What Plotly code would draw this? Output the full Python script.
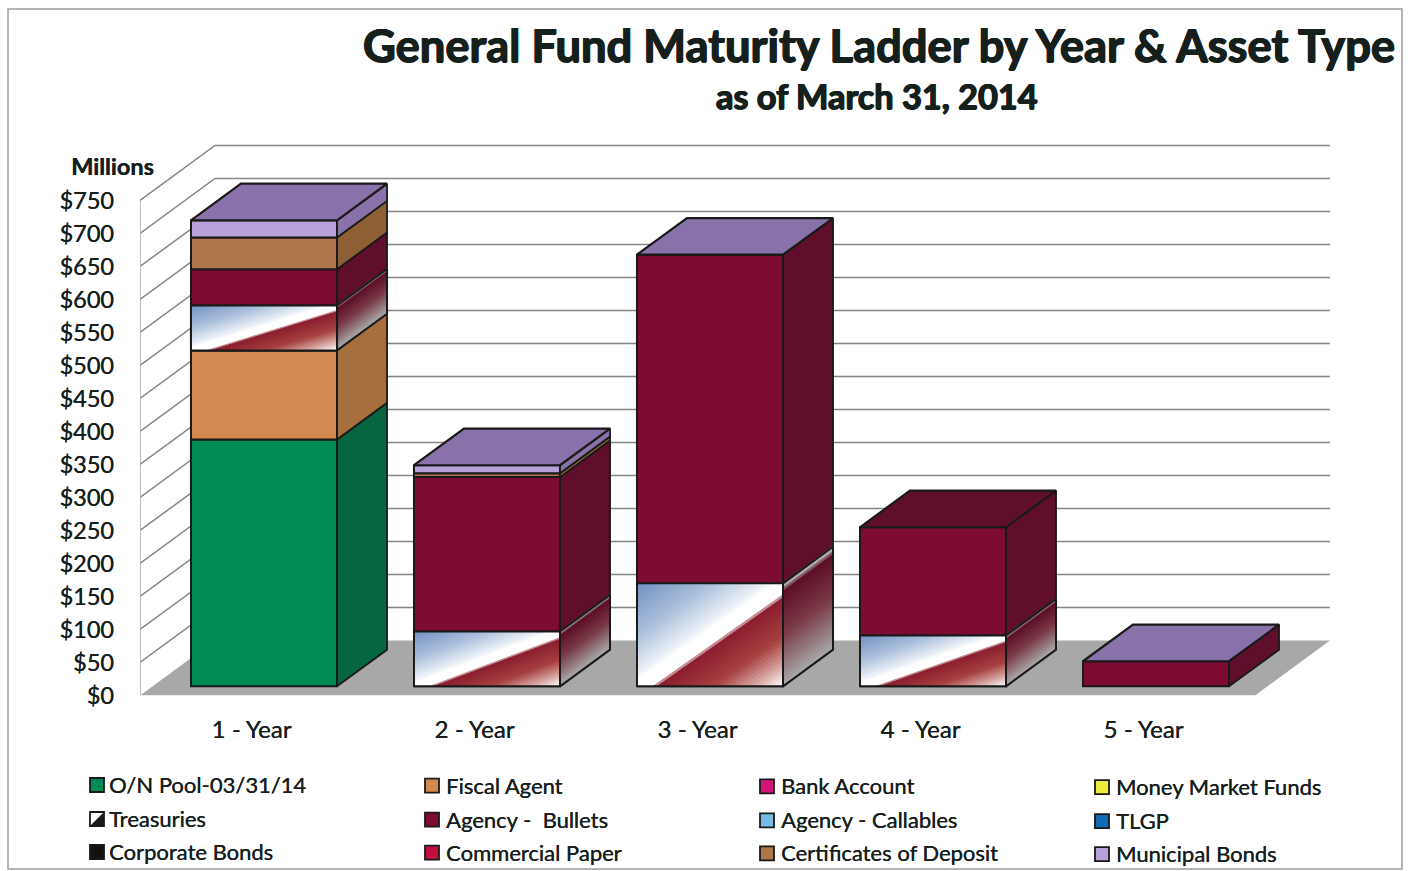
import plotly.graph_objects as go

WIDTH, HEIGHT = 1408, 871
TEXT = "#15201d"
FONT = "Lato"
EDGE = "#191919"
# Slight and strong thickening of the strokes, for a heavier look than the installed faces
LABEL_WEIGHT = f"0.25px 0 0 {TEXT}"
HEADING_WEIGHT = f"0.7px 0 0 {TEXT}, -0.7px 0 0 {TEXT}, 0 0.5px 0 {TEXT}, 0 -0.5px 0 {TEXT}"

# ---- data ($ millions); None means the asset type is absent from that year ----
years = ["1 - Year", "2 - Year", "3 - Year", "4 - Year", "5 - Year"]
on_pool = [374, None, None, None, None]
fiscal_agent = [135, None, None, None, None]
bank_account = [None, None, None, None, None]
money_market = [None, None, None, None, None]
treasuries = [68, 83, 156, 77, None]
agency_bullets = [55, 234, 498, 164, 38]
agency_callables = [None, None, None, None, None]
tlgp = [None, None, None, None, None]
corporate_bonds = [None, None, None, None, None]
commercial_paper = [None, None, None, None, None]
certificates = [48, 6, None, None, None]
municipal_bonds = [26, 12, 0, None, 0]

axis_ticks = list(range(0, 751, 50))

series_names = [
    "O/N Pool-03/31/14", "Fiscal Agent", "Bank Account", "Money Market Funds",
    "Treasuries", "Agency -  Bullets", "Agency - Callables", "TLGP",
    "Corporate Bonds", "Commercial Paper", "Certificates of Deposit", "Municipal Bonds",
]
series_values = [
    on_pool, fiscal_agent, bank_account, money_market,
    treasuries, agency_bullets, agency_callables, tlgp,
    corporate_bonds, commercial_paper, certificates, municipal_bonds,
]
front_colors = [
    "#008b55", "#d28a50", "#d6137b", "#ecea3c",
    "#ffffff", "#7e0b33", "#72bce6", "#0f69b4",
    "#111111", "#c40f3c", "#ad7749", "#b6a2d8",
]
shade_colors = [
    "#05663f", "#a86f3e", "#a00e5c", "#b5b32c",
    "#888888", "#5f0f2b", "#558dad", "#0b4e87",
    "#0b0b0b", "#930b2d", "#8e5f35", "#8872a9",
]
TREASURY = series_names.index("Treasuries")

# ---- projection of the box-like 3-D look onto the 2-D axes ----
DEPTH_X = 75 / 223      # full floor depth, in category widths
DEPTH_Y = 55 / 0.66     # full floor depth, in $ millions
D_FRONT, D_BACK = 1 / 6, 5 / 6
BAR_WIDTH = 0.655
X_MIN, X_MAX = -0.5, 4.5


def project(x, value, depth):
    return x + depth * DEPTH_X, value + depth * DEPTH_Y


def px(x):
    return x / WIDTH


def py(y):
    return 1 - y / HEIGHT


def polygon_path(points):
    return "M" + "L".join(f"{x},{y}" for x, y in points) + "Z"


def clip(points, keep):
    """Clip a polygon with a half-plane given as keep(p) -> signed distance."""
    out = []
    for a, b in zip(points, points[1:] + points[:1]):
        da, db = keep(a), keep(b)
        if da >= 0:
            out.append(a)
        if da * db < 0:
            s = da / (da - db)
            out.append((a[0] + s * (b[0] - a[0]), a[1] + s * (b[1] - a[1])))
    return out


def lerp_color(c0, c1, s):
    v0 = [int(c0[i:i + 2], 16) for i in (1, 3, 5)]
    v1 = [int(c1[i:i + 2], 16) for i in (1, 3, 5)]
    return "#" + "".join(f"{round(a + s * (b - a)):02x}" for a, b in zip(v0, v1))


def ramp(stops, steps_per_unit):
    """Split colour stops into (t0, t1, colour) bands."""
    bands = []
    for (t0, c0), (t1, c1) in zip(stops, stops[1:]):
        n = max(1, round((t1 - t0) * steps_per_unit))
        for k in range(n):
            a = t0 + (t1 - t0) * k / n
            b = t0 + (t1 - t0) * (k + 1) / n
            bands.append((a, b, lerp_color(c0, c1, (k + 0.5) / n)))
    return bands


def face_trace(points, fill, width):
    """Filled, closed polygon with a dark edge."""
    closed = points + points[:1]
    return go.Scatter(x=[p[0] for p in closed], y=[p[1] for p in closed],
                      mode="lines", fill="toself", fillcolor=fill,
                      line=dict(color=EDGE, width=width),
                      hoverinfo="skip", showlegend=False)


# Diagonal metallic fill on the front of a Treasuries block
front_bands = ramp([
    (0.00, "#6f8fc0"), (0.25, "#a9bedb"), (0.45, "#eef3f8"), (0.47, "#ffffff"),
    (0.555, "#ffffff"), (0.57, "#8a1c2e"), (0.76, "#a7403f"), (0.90, "#d8a8a4"),
    (1.00, "#ffffff"),
], 48)
# Matching fill on the shaded side of a Treasuries block
side_bands = ramp([
    (0.00, "#b8b8b8"), (0.05, "#a8a0a0"), (0.08, "#5c0e26"), (0.50, "#7a3a47"),
    (1.00, "#a8a8a8"),
], 26)

fig = go.Figure()

# ---- walls and floor, behind everything ----
shapes = []
floor = [project(X_MIN, 0, 0), project(X_MAX, 0, 0), project(X_MAX, 0, 1), project(X_MIN, 0, 1)]
shapes.append(dict(type="path", path=polygon_path(floor), xref="x", yref="y", layer="below",
                   fillcolor="#a8a8a8", line=dict(width=0)))
for tick in axis_ticks[1:]:
    a, b, c = project(X_MIN, tick, 0), project(X_MIN, tick, 1), project(X_MAX, tick, 1)
    shapes.append(dict(type="path", path=f"M{a[0]},{a[1]}L{b[0]},{b[1]}L{c[0]},{c[1]}",
                       xref="x", yref="y", layer="below",
                       line=dict(color="#858585", width=1.5)))
shapes.append(dict(type="line", xref="x", yref="y", layer="below",
                   x0=X_MIN, x1=X_MIN, y0=0, y1=axis_ticks[-1],
                   line=dict(color="#a8a8a8", width=1.5)))
# Outer chart frame
shapes.append(dict(type="rect", xref="paper", yref="paper", layer="below",
                   x0=px(8), x1=px(1402), y0=py(869), y1=py(9),
                   line=dict(color="#9c9c9c", width=1.5), fillcolor="rgba(0,0,0,0)"))

# ---- stacked blocks ----
running = [0.0] * len(years)
face_traces = []
front_strips = {}
side_strips = {}
outlines_x, outlines_y = [], []


def add_strip(store, bands, corners, param):
    """Cut a quadrilateral into colour bands along param, which is linear over the face."""
    for t0, t1, color in bands:
        poly = clip(list(corners), lambda p: param(p) - t0)
        if poly:
            poly = clip(poly, lambda p: t1 - param(p))
        if len(poly) >= 3:
            xs, ys = store.setdefault(color, ([], []))
            xs.extend(p[0] for p in poly + poly[:1])
            ys.extend(p[1] for p in poly + poly[:1])
            xs.append(None)
            ys.append(None)


top_of_stack = [None] * len(years)
for s, (name, values) in enumerate(zip(series_names, series_values)):
    xs, heights, bases = [], [], []
    for i, v in enumerate(values):
        if v is None:
            continue
        base = running[i]
        top = base + v
        left, right = i - BAR_WIDTH / 2, i + BAR_WIDTH / 2
        top_of_stack[i] = s
        running[i] = top
        if v == 0:
            continue
        x_shift, y_shift = project(i, base, D_FRONT)
        xs.append(x_shift)
        bases.append(y_shift)
        heights.append(v)
        # right-hand side face
        side = [project(right, base, D_FRONT), project(right, top, D_FRONT),
                project(right, top, D_BACK), project(right, base, D_BACK)]
        if s == TREASURY:
            fx0, fy0 = project(left, base, D_FRONT)
            fx1, fy1 = project(right, top, D_FRONT)
            front = [(fx0, fy0), (fx1, fy0), (fx1, fy1), (fx0, fy1)]
            add_strip(front_strips, front_bands, front,
                      lambda p, a=fx0, b=fx1, c=fy0, d=fy1:
                      ((p[0] - a) / (b - a) + (d - p[1]) / (d - c)) / 2)
            slope = DEPTH_Y / DEPTH_X
            add_strip(side_strips, side_bands, side,
                      lambda p, a=fx1, d=fy1, h=top - base, m=slope:
                      (d + (p[0] - a) * m - p[1]) / h)
            for quad in (front, side):
                closed = quad + quad[:1]
                outlines_x.extend(p[0] for p in closed)
                outlines_y.extend(p[1] for p in closed)
                outlines_x.append(None)
                outlines_y.append(None)
        else:
            face_traces.append(face_trace(side, shade_colors[s], 1.8))
    if xs:
        fig.add_trace(go.Bar(
            x=xs, y=heights, base=bases, width=BAR_WIDTH, name=name,
            marker=dict(color=front_colors[s], line=dict(color=EDGE, width=2)),
            showlegend=False))

for trace in face_traces:
    fig.add_trace(trace)

for store, seam in ((front_strips, 1.0), (side_strips, 1.6)):
    for color, (xs, ys) in store.items():
        fig.add_trace(go.Scatter(x=xs, y=ys, mode="lines", fill="toself", fillcolor=color,
                                 line=dict(color=color, width=seam),
                                 hoverinfo="skip", showlegend=False))

fig.add_trace(go.Scatter(x=outlines_x, y=outlines_y, mode="lines",
                         line=dict(color=EDGE, width=2),
                         hoverinfo="skip", showlegend=False))

# Lid of each block takes the shade of the last series in its stack
for i, s in enumerate(top_of_stack):
    left, right = i - BAR_WIDTH / 2, i + BAR_WIDTH / 2
    top = running[i]
    lid = [project(left, top, D_FRONT), project(right, top, D_FRONT),
           project(right, top, D_BACK), project(left, top, D_BACK)]
    fig.add_trace(face_trace(lid, shade_colors[s], 2.2))

# ---- titles ----
annotations = [
    dict(text="<b>General Fund Maturity Ladder by Year &amp; Asset Type</b>", x=px(879), y=py(45),
         font=dict(size=45.3, color=TEXT, family=FONT, shadow=HEADING_WEIGHT)),
    dict(text="<b>as of March 31, 2014</b>", x=px(877), y=py(96),
         font=dict(size=34.3, color=TEXT, family=FONT, shadow=HEADING_WEIGHT)),
    dict(text="<b>Millions</b>", x=px(112), y=py(166),
         font=dict(size=23.5, color=TEXT, family=FONT, shadow=f"0.4px 0 0 {TEXT}")),
]

# ---- hand-placed key: four columns by three rows ----
swatch_cols = [90, 425, 760, 1095]
text_cols = [107, 444, 779, 1114]
row_ys = [785, 819, 852]
SWATCH = 14
for k, name in enumerate(series_names):
    row, col = k // 4, k % 4
    yc = row_ys[row] + col * 0.7
    x0 = swatch_cols[col]
    shapes.append(dict(type="rect", xref="paper", yref="paper",
                       x0=px(x0), x1=px(x0 + SWATCH), y0=py(yc + SWATCH / 2), y1=py(yc - SWATCH / 2),
                       fillcolor=front_colors[k], line=dict(color=EDGE, width=1.8)))
    if k == TREASURY:
        shapes.append(dict(type="path", xref="paper", yref="paper",
                           path=polygon_path([(px(x0), py(yc + SWATCH / 2)),
                                              (px(x0 + SWATCH), py(yc + SWATCH / 2)),
                                              (px(x0 + SWATCH), py(yc - SWATCH / 2))]),
                           fillcolor=EDGE, line=dict(width=0)))
    annotations.append(dict(text=name, x=px(text_cols[col]), y=py(yc - 0.5), xanchor="left",
                            font=dict(size=22, color=TEXT, family=FONT, shadow=LABEL_WEIGHT)))

for a in annotations:
    a.update(xref="paper", yref="paper", showarrow=False)
    a.setdefault("xanchor", "center")
    a.setdefault("yanchor", "middle")

fig.update_layout(
    width=WIDTH, height=HEIGHT, margin=dict(l=0, r=0, t=0, b=0, autoexpand=False),
    paper_bgcolor="white", plot_bgcolor="white",
    barmode="overlay", showlegend=False, shapes=shapes, annotations=annotations,
    xaxis=dict(domain=[px(140), px(1330)], range=[X_MIN, X_MAX + DEPTH_X], automargin=False,
               tickmode="array", tickvals=list(range(len(years))), ticktext=years,
               tickfont=dict(size=24, color=TEXT, family=FONT, shadow=LABEL_WEIGHT),
               ticks="", showgrid=False, zeroline=False, showline=False,
               ticklabelstandoff=17),
    yaxis=dict(domain=[py(695.5), py(144)], range=[0, 551.5 / 0.66], automargin=False,
               tickmode="array", tickvals=axis_ticks, ticktext=[f"${t}" for t in axis_ticks],
               tickfont=dict(size=23.5, color=TEXT, family=FONT, shadow=LABEL_WEIGHT),
               ticks="", showgrid=False, zeroline=False, showline=False,
               ticklabelstandoff=25),
)

fig.write_html("out.html")
